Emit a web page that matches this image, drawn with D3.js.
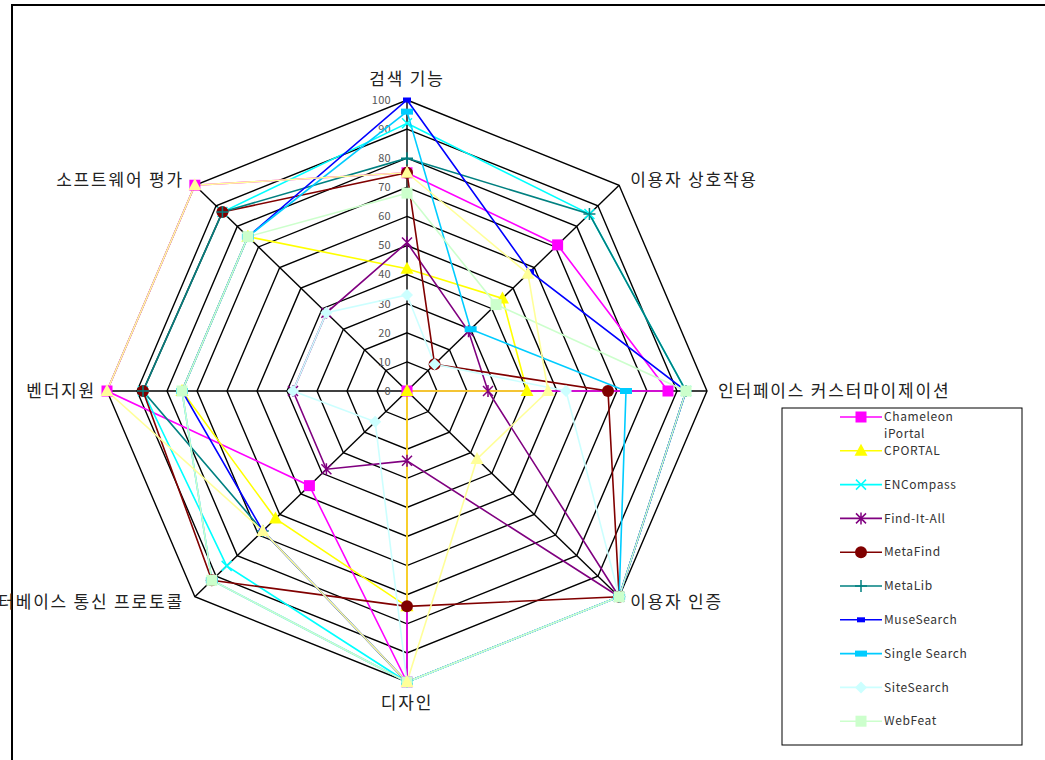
<!DOCTYPE html>
<meta charset="utf-8">

<script src="https://d3js.org/d3.v7.min.js"></script>

<style type="text/css">
body { margin: 0; background: #fff; }
svg { display: block; font-family: "Noto Sans CJK KR", "Noto Sans", sans-serif; }
</style>

<body>
</body>

<script>

// categories (clockwise from top)
var axes = ["검색 기능", "이용자 상호작용", "인터페이스 커스터마이제이션", "이용자 인증",
            "디자인", "데이터베이스 통신 프로토콜", "벤더지원", "소프트웨어 평가"];

var ticks = [0, 10, 20, 30, 40, 50, 60, 70, 80, 90, 100];

var seriesNames = ["Chameleon iPortal", "CPORTAL", "ENCompass", "Find-It-All", "MetaFind",
                   "MetaLib", "MuseSearch", "Single Search", "SiteSearch", "WebFeat", ""];

// series values, one per axis
var chameleon    = [75, 71, 87, 0, 100, 46, 100, 100];
var cportal      = [42, 45, 40, 0, 74, 62, 75, 75];
var encompass    = [92, 86, 93, 100, 100, 85, 88, 87];
var findItAll    = [51, 29, 27, 100, 24, 38, 38, 38];
var metaFind     = [75, 13, 67, 100, 74, 92, 88, 87];
var metaLib      = [80, 86, 93, 100, 100, 68, 88, 87];
var museSearch   = [100, 58, 93, 100, 100, 68, 75, 75];
var singleSearch = [96, 30, 73, 100, 100, 92, 75, 75];
var siteSearch   = [33, 13, 53, 100, 100, 15, 38, 38];
var webFeat      = [68, 42, 93, 100, 100, 92, 75, 75];
var extraSeries  = [75, 57, 47, 33, 100, 68, 100, 100]; // not in legend

var allValues = [chameleon, cportal, encompass, findItAll, metaFind, metaLib,
                 museSearch, singleSearch, siteSearch, webFeat, extraSeries];

var colors = ["#ff00ff", "#ffff00", "#00ffff", "#800080", "#800000", "#008080",
              "#0000ff", "#00ccff", "#ccffff", "#ccffcc", "#ffff99"];
var markers = ["square", "triangle", "x", "star", "circle", "plus",
               "dash", "longdash", "diamond", "square", "triangle"];

var series = seriesNames.map(function(n, i) {
  return {name: n, values: allValues[i], color: colors[i], marker: markers[i], legend: n !== ""};
});

var width = 1045, height = 760;
var cx = 407, cy = 391;

var svg = d3.select("body").append("svg")
    .attr("width", width)
    .attr("height", height);

svg.append("rect").attr("width", width).attr("height", height).attr("fill", "#fff");

// outer frame (runs off the right and bottom)
svg.append("rect")
    .attr("x", 12).attr("y", 5)
    .attr("width", 1100).attr("height", 800)
    .attr("fill", "none").attr("stroke", "#000").attr("stroke-width", 2);

// chart is slightly wider than tall
var rx = d3.scaleLinear().domain([0, 100]).range([0, 300]);
var ry = d3.scaleLinear().domain([0, 100]).range([0, 291]);

function angle(i) { return i * Math.PI / 4; }
function pt(i, v) {
  return [cx + rx(v) * Math.sin(angle(i)), cy - ry(v) * Math.cos(angle(i))];
}

var line = d3.line();

// grid rings
var g = svg.append("g");
ticks.slice(1).forEach(function(t) {
  g.append("path")
    .attr("d", line(axes.map(function(a, i) { return pt(i, t); })) + "Z")
    .attr("fill", "none").attr("stroke", "#000").attr("stroke-width", 1.4);
});
axes.forEach(function(a, i) {
  g.append("path")
    .attr("d", line([pt(i, 0), pt(i, 100)]))
    .attr("stroke", "#000").attr("stroke-width", 1.4);
});

// tick labels
svg.selectAll(".tick").data(ticks).enter().append("text")
    .attr("x", cx - 16)
    .attr("y", function(d) { return cy - ry(d); })
    .attr("dy", "0.35em")
    .attr("text-anchor", "end")
    .attr("font-size", 11)
    .attr("letter-spacing", 0.3)
    .attr("fill", "#555")
    .text(function(d) { return d; });

// axis labels
axes.forEach(function(a, i) {
  var p = pt(i, 100), s = Math.sin(angle(i)), c = Math.cos(angle(i));
  var dx = s > 0.1 ? 11 : (s < -0.1 ? -11 : 0);
  var dy = c > 0.9 ? -21 : (c < -0.9 ? 21 : -c * 8);
  svg.append("text")
    .attr("x", p[0] + dx).attr("y", p[1] + dy)
    .attr("dy", "0.35em")
    .attr("text-anchor", dx > 0 ? "start" : (dx < 0 ? "end" : "middle"))
    .attr("font-size", 17)
    .attr("letter-spacing", 1.8)
    .attr("fill", "#222")
    .text(a);
});

function drawMarker(sel, type, color, x, y) {
  var m = sel.append("g").attr("transform", "translate(" + x + "," + y + ")");
  if (type === "square") {
    m.append("rect").attr("x", -5.5).attr("y", -5.5).attr("width", 11).attr("height", 11).attr("fill", color);
  } else if (type === "triangle") {
    m.append("path").attr("d", "M0,-7L6.5,5L-6.5,5Z").attr("fill", color);
  } else if (type === "circle") {
    m.append("circle").attr("r", 6).attr("fill", color);
  } else if (type === "diamond") {
    m.append("path").attr("d", "M0,-6L6,0L0,6L-6,0Z").attr("fill", color);
  } else if (type === "x") {
    m.append("path").attr("d", "M-5,-5L5,5M5,-5L-5,5").attr("stroke", color).attr("stroke-width", 1.5);
  } else if (type === "star") {
    m.append("path").attr("d", "M-5,-5L5,5M5,-5L-5,5M0,-6L0,6").attr("stroke", color).attr("stroke-width", 1.5);
  } else if (type === "plus") {
    m.append("path").attr("d", "M-6,0L6,0M0,-6L0,6").attr("stroke", color).attr("stroke-width", 1.5);
  } else if (type === "dash") {
    m.append("rect").attr("x", -4).attr("y", -2.5).attr("width", 8).attr("height", 5).attr("fill", color);
  } else if (type === "longdash") {
    m.append("rect").attr("x", -6).attr("y", -3).attr("width", 12).attr("height", 6).attr("fill", color);
  }
}

// series lines
var lines = svg.append("g");
series.forEach(function(s) {
  lines.append("path")
    .attr("d", line(s.values.map(function(v, i) { return pt(i, v); })) + "Z")
    .attr("fill", "none")
    .attr("stroke", s.color)
    .attr("stroke-width", 1.6);
});

// markers on top, in series order
var marks = svg.append("g");
series.forEach(function(s) {
  s.values.forEach(function(v, i) {
    var p = pt(i, v);
    drawMarker(marks, s.marker, s.color, p[0], p[1]);
  });
});

// legend
var legend = svg.append("g").attr("transform", "translate(782,408)");
legend.append("rect")
    .attr("width", 240).attr("height", 337)
    .attr("fill", "#fff").attr("stroke", "#000").attr("stroke-width", 1);

var legendItems = series.filter(function(s) { return s.legend; });
legendItems.forEach(function(s, i) {
  var y = 9 + i * 33.8;
  var item = legend.append("g").attr("transform", "translate(0," + y + ")");
  item.append("line")
    .attr("x1", 58).attr("x2", 100)
    .attr("stroke", s.color).attr("stroke-width", 1.6);
  drawMarker(item, s.marker, s.color, 79, 0);
  var words = s.name === "Chameleon iPortal" ? ["Chameleon", "iPortal"] : [s.name];
  words.forEach(function(w, j) {
    item.append("text")
      .attr("x", 102).attr("y", j * 17)
      .attr("dy", "0.35em")
      .attr("font-size", 12)
      .attr("letter-spacing", 0.6)
      .attr("fill", "#333")
      .text(w);
  });
});

</script>
